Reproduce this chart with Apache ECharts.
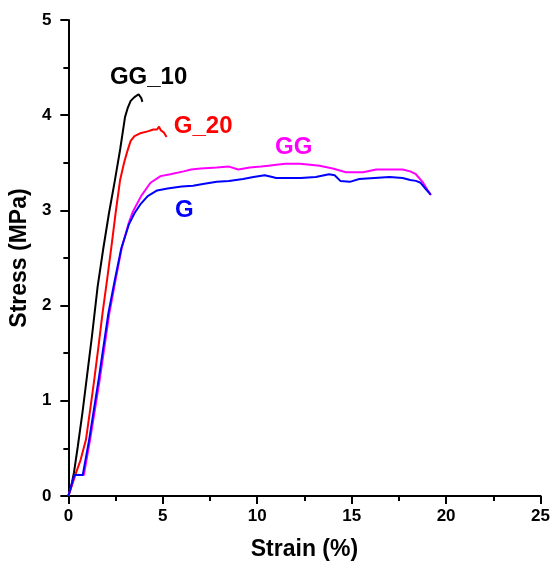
<!DOCTYPE html>
<html>
<head>
<meta charset="utf-8">
<script src="https://cdn.jsdelivr.net/npm/echarts@6/dist/echarts.min.js"></script>
<style>html,body{margin:0;padding:0;background:#fff}#c{width:553px;height:566px}</style>
</head>
<body>
<div id="c"></div>
<script>
// Tick ranges
const xTicks = [0, 5, 10, 15, 20, 25];
const yTicks = [0, 1, 2, 3, 4, 5];

// GG_10 (black)
const gg10 = [[0,0],[0.15,0.1],[0.3,0.25],[0.5,0.52],[0.75,0.88],[1.0,1.28],[1.25,1.68],[1.55,2.2],[1.85,2.6],[2.15,2.97],[2.45,3.3],[2.75,3.65],[3.0,3.98],[3.15,4.08],[3.3,4.15],[3.5,4.19],[3.72,4.22],[3.8,4.21],[3.86,4.18],[3.92,4.14]];
// G_20 (red)
const g20 = [[0,0],[0.2,0.12],[0.4,0.24],[0.65,0.38],[0.93,0.59],[1.15,0.9],[1.37,1.22],[1.6,1.58],[1.81,1.92],[2.05,2.27],[2.3,2.65],[2.5,2.97],[2.74,3.32],[2.95,3.5],[3.12,3.62],[3.3,3.73],[3.5,3.78],[3.8,3.81],[4.2,3.83],[4.5,3.85],[4.6,3.87],[4.7,3.85],[4.8,3.88],[4.9,3.84],[5.05,3.82],[5.2,3.77]];
// GG (magenta)
const gg = [[0,0],[0.34,0.22],[0.82,0.22],[1.15,0.59],[1.66,1.22],[2.17,1.92],[2.5,2.27],[2.82,2.6],[3.2,2.87],[3.4,2.98],[3.85,3.15],[4.35,3.29],[4.88,3.36],[5.4,3.38],[6.1,3.41],[6.5,3.43],[7.0,3.44],[7.86,3.45],[8.5,3.46],[9.0,3.43],[9.3,3.44],[9.6,3.45],[10.2,3.46],[10.6,3.47],[11.0,3.48],[11.5,3.49],[12.25,3.49],[12.8,3.48],[13.3,3.47],[14.0,3.44],[14.7,3.40],[15.6,3.40],[16.3,3.43],[17.0,3.43],[17.7,3.43],[18.1,3.41],[18.4,3.38],[18.75,3.3],[19.0,3.22],[19.2,3.16]];
// G (blue)
const g = [[0,0],[0.32,0.22],[0.76,0.22],[1.1,0.59],[1.6,1.22],[2.12,1.92],[2.46,2.27],[2.8,2.6],[3.2,2.85],[3.5,2.97],[3.8,3.06],[4.2,3.15],[4.7,3.21],[5.25,3.23],[6.0,3.25],[6.6,3.26],[7.2,3.28],[7.86,3.3],[8.5,3.31],[9.25,3.33],[9.8,3.35],[10.4,3.37],[10.8,3.35],[11.0,3.34],[11.7,3.34],[12.3,3.34],[13.1,3.35],[13.8,3.38],[14.1,3.37],[14.4,3.31],[14.9,3.30],[15.4,3.33],[16.2,3.34],[17.0,3.35],[17.7,3.34],[18.1,3.32],[18.4,3.31],[18.65,3.29],[18.9,3.23],[19.18,3.165]];

// Curve label anchors (data coords)
const seriesNames = ['GG_10', 'G_20', 'GG', 'G'];
const seriesColors = ['#000000', '#ff0000', '#ff00ff', '#0000ff'];
const labelAnchors = [[4.25, 4.40], [7.14, 3.88], [11.93, 3.66], [6.14, 3.0]];
const seriesData = [gg10, g20, gg, g];

const FONT = 'Liberation Sans, Arial, sans-serif';
const chart = echarts.init(document.getElementById('c'));

const axisCommon = {
  axisLine: { show: true, lineStyle: { color: '#000', width: 2 } },
  axisTick: { show: true, length: 8, lineStyle: { color: '#000', width: 2 } },
  minorTick: { show: true, splitNumber: 2, length: 5, lineStyle: { color: '#000', width: 2 } },
  splitLine: { show: false },
  nameLocation: 'middle',
  nameTextStyle: { fontFamily: FONT, fontWeight: 'bold', fontSize: 23, color: '#000' }
};

chart.setOption({
  animation: false,
  backgroundColor: '#fff',
  grid: { left: 67, right: 10, top: 20, bottom: 70, containLabel: false },
  xAxis: Object.assign({}, axisCommon, {
    type: 'value', min: xTicks[0], max: xTicks[xTicks.length - 1], interval: xTicks[1] - xTicks[0],
    name: 'Strain (%)', nameGap: 42,
    axisLabel: { margin: 12, fontFamily: FONT, fontWeight: 'bold', fontSize: 17, color: '#000' }
  }),
  yAxis: Object.assign({}, axisCommon, {
    type: 'value', min: yTicks[0], max: yTicks[yTicks.length - 1], interval: yTicks[1] - yTicks[0],
    name: 'Stress (MPa)', nameGap: 33,
    axisLabel: { margin: 17, fontFamily: FONT, fontWeight: 'bold', fontSize: 17, color: '#000' }
  }),
  series: seriesData.map((d, i) => ({
    type: 'line', name: seriesNames[i], data: d, showSymbol: false, symbol: 'none',
    lineStyle: { color: seriesColors[i], width: 2 },
    markPoint: {
      symbol: 'circle', symbolSize: 0,
      data: [{ coord: labelAnchors[i], value: seriesNames[i] }],
      label: { show: true, position: 'inside', formatter: seriesNames[i], color: seriesColors[i],
        fontFamily: FONT, fontWeight: 'bold', fontSize: 24 }
    }
  }))
});
</script>
</body>
</html>
